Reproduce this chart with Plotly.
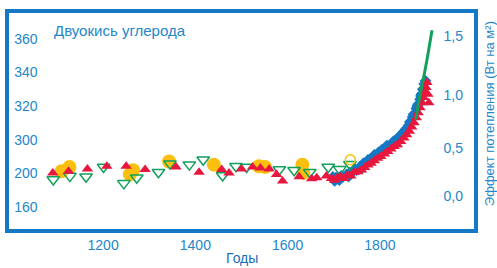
import plotly.graph_objects as go

# ---- data (year, ppm) ----
yellow_year = [1110, 1127, 1258, 1265, 1343, 1440, 1538, 1551, 1632, 1634]
yellow_ppm = [281.3, 283.8, 279.4, 281.9, 287.1, 285.2, 284.2, 283.8, 285.2, 280.3]

open_circle_year = [1736]
open_circle_ppm = [288.1]

red_year = [1091, 1125, 1166, 1208, 1250, 1291, 1358, 1408, 1457, 1473, 1500, 1524, 1541,
            1560, 1576, 1589, 1625, 1652, 1663, 1684,
            1695, 1702, 1708, 1715, 1722, 1730, 1737, 1744, 1752, 1760, 1767, 1774, 1781,
            1788, 1795, 1802, 1810, 1817, 1824, 1831, 1838, 1845, 1852, 1858, 1864, 1869,
            1874, 1879, 1883, 1887, 1891, 1894, 1897, 1900, 1902, 1904, 1906]
red_ppm = [280.3, 281.3, 282.6, 284.2, 284.2, 282.3, 283.8, 280.7, 282.3, 280.3, 282.6, 283.8, 283.2,
           282.6, 279.4, 275.5, 278.0, 276.8, 277.4, 278.4,
           277.0, 276.0, 277.5, 278.0, 277.0, 279.0, 278.5, 280.5, 281.0, 282.0, 283.5, 285.0, 286.0,
           287.5, 289.0, 290.0, 291.5, 293.0, 294.5, 296.0, 297.0, 299.0, 301.0, 303.0, 305.0, 307.5,
           310.0, 313.0, 316.0, 319.0, 322.0, 325.0, 328.0, 331.0, 334.0, 327.0, 322.0]

green_tri_year = [1092, 1128, 1163, 1201, 1245, 1273, 1320, 1345, 1387, 1417, 1459, 1488, 1511,
                  1582, 1614, 1648, 1688, 1713, 1735]
green_tri_ppm = [276.4, 278.4, 278.0, 283.8, 274.1, 277.4, 280.7, 285.8, 285.2, 288.1, 278.8, 284.2, 283.8,
                 282.3, 281.9, 280.7, 283.8, 282.4, 285.4]

blue_year = [1698, 1702, 1705, 1712, 1716, 1720, 1728, 1732, 1735, 1742, 1746, 1750, 1757, 1761,
             1764, 1770, 1774, 1777, 1784, 1788, 1790, 1797, 1801, 1804, 1811, 1815, 1818, 1825,
             1829, 1832, 1838, 1842, 1845, 1851, 1854, 1857, 1862, 1865, 1867, 1871, 1873, 1875,
             1879, 1881, 1883, 1887, 1889, 1890, 1893, 1896, 1899]
blue_ppm = [278.0, 275.5, 277.5, 276.0, 278.5, 278.0, 279.5, 278.0, 280.5, 281.0, 282.5, 282.0, 284.0, 283.0,
            286.0, 286.5, 288.0, 288.0, 289.5, 291.0, 290.0, 292.5, 292.0, 294.0, 295.0, 296.5, 296.0, 297.5,
            299.0, 299.0, 300.5, 302.0, 302.5, 304.5, 305.5, 306.5, 308.5, 310.5, 311.0, 313.5, 315.0, 315.5,
            318.5, 320.0, 321.0, 324.0, 326.0, 327.0, 330.0, 333.0, 335.0]

line_year = [1878, 1886, 1897, 1905, 1913]
line_ppm = [312.0, 325.0, 340.0, 352.0, 365.0]

ppm_ticks = [260, 280, 300, 320, 340, 360]
ppm_ticktext = ["160", "200", "300", "320", "340", "360"]

forcing_ticks = [0.0, 0.5, 1.0, 1.5]
forcing_base_ppm = 266.7   # ppm where forcing = 0.0
forcing_top_ppm = 361.7    # ppm where forcing = 1.5

x_ticks = [1200, 1400, 1600, 1800]

# ---- styles ----
BLUE = "#1478c4"
TXT = "#2387c9"
RED = "#e8173e"
GREEN = "#12a05c"
YELLOW = "#fbc00f"
FONT = "Liberation Sans, Arial, sans-serif"

ratio = forcing_top_ppm / forcing_base_ppm
forcing_pos = [forcing_base_ppm * ratio ** (f / 1.5) for f in forcing_ticks]
forcing_text = [("%.1f" % f).replace(".", ",") for f in forcing_ticks]

fig = go.Figure()
fig.add_trace(go.Scatter(x=yellow_year, y=yellow_ppm, mode="markers",
                         marker=dict(symbol="circle", size=14, color=YELLOW, line=dict(width=0))))
fig.add_trace(go.Scatter(x=blue_year, y=blue_ppm, mode="markers",
                         marker=dict(symbol="diamond", size=9, color=BLUE, line=dict(width=0))))
fig.add_trace(go.Scatter(x=green_tri_year, y=green_tri_ppm, mode="markers",
                         marker=dict(symbol="triangle-down-open", size=11, color=GREEN,
                                     line=dict(width=1.5, color=GREEN))))
fig.add_trace(go.Scatter(x=red_year, y=red_ppm, mode="markers",
                         marker=dict(symbol="triangle-up", size=10, color=RED, line=dict(width=0))))
fig.add_trace(go.Scatter(x=line_year, y=line_ppm, mode="lines",
                         line=dict(color=GREEN, width=3, shape="spline")))
fig.add_trace(go.Scatter(x=open_circle_year, y=open_circle_ppm, mode="markers",
                         marker=dict(symbol="circle-open", size=10, color=YELLOW,
                                     line=dict(width=1.5, color=YELLOW))))
# invisible trace for right axis
fig.add_trace(go.Scatter(x=[1000], y=[300], yaxis="y2", mode="markers",
                         marker=dict(opacity=0), hoverinfo="skip"))

fig.update_layout(
    width=497, height=268,
    margin=dict(l=9, r=23, t=9, b=39),
    paper_bgcolor="white", plot_bgcolor="white",
    showlegend=False,
    font=dict(family=FONT, size=14, color=TXT),
    xaxis=dict(range=[996, 2004], tickvals=x_ticks, showgrid=False, zeroline=False,
               showline=True, mirror=True, linewidth=4, linecolor=BLUE, ticks="",
               tickfont=dict(size=14, color=TXT)),
    yaxis=dict(range=[247, 375.2], tickvals=ppm_ticks, ticktext=ppm_ticktext,
               showgrid=False, zeroline=False, showline=True, mirror=True,
               linewidth=4, linecolor=BLUE, ticks="", ticklabelposition="inside",
               ticklabelstandoff=5, tickfont=dict(size=14, color=TXT)),
    yaxis2=dict(range=[247, 375.2], overlaying="y", side="right", tickvals=forcing_pos,
                ticktext=forcing_text, showgrid=False, zeroline=False, showline=False,
                ticks="", ticklabelposition="inside", ticklabelstandoff=8,
                tickfont=dict(size=14, color=TXT)),
    annotations=[
        dict(text="Двуокись углерода", xref="paper", yref="paper", x=(52 - 9) / 465,
             y=(229 - 27) / 220, xanchor="left", yanchor="middle", showarrow=False,
             font=dict(size=15, color=TXT)),
        dict(text="Эффект потепления (Вт на м²)", xref="paper", yref="paper",
             x=(489 - 9) / 465, y=(229 - 112) / 220, xanchor="center", yanchor="middle",
             textangle=-90, showarrow=False, font=dict(size=13, color=TXT)),
        dict(text="Годы", xref="paper", yref="paper", x=(242 - 9) / 465,
             y=(229 - 259) / 220, xanchor="center", yanchor="middle", showarrow=False,
             font=dict(size=14, color="#1a6fb8")),
    ],
)

fig.write_html("out.html", config={"displayModeBar": False},
               post_script="document.body.style.margin='0';document.body.style.padding='0';")
